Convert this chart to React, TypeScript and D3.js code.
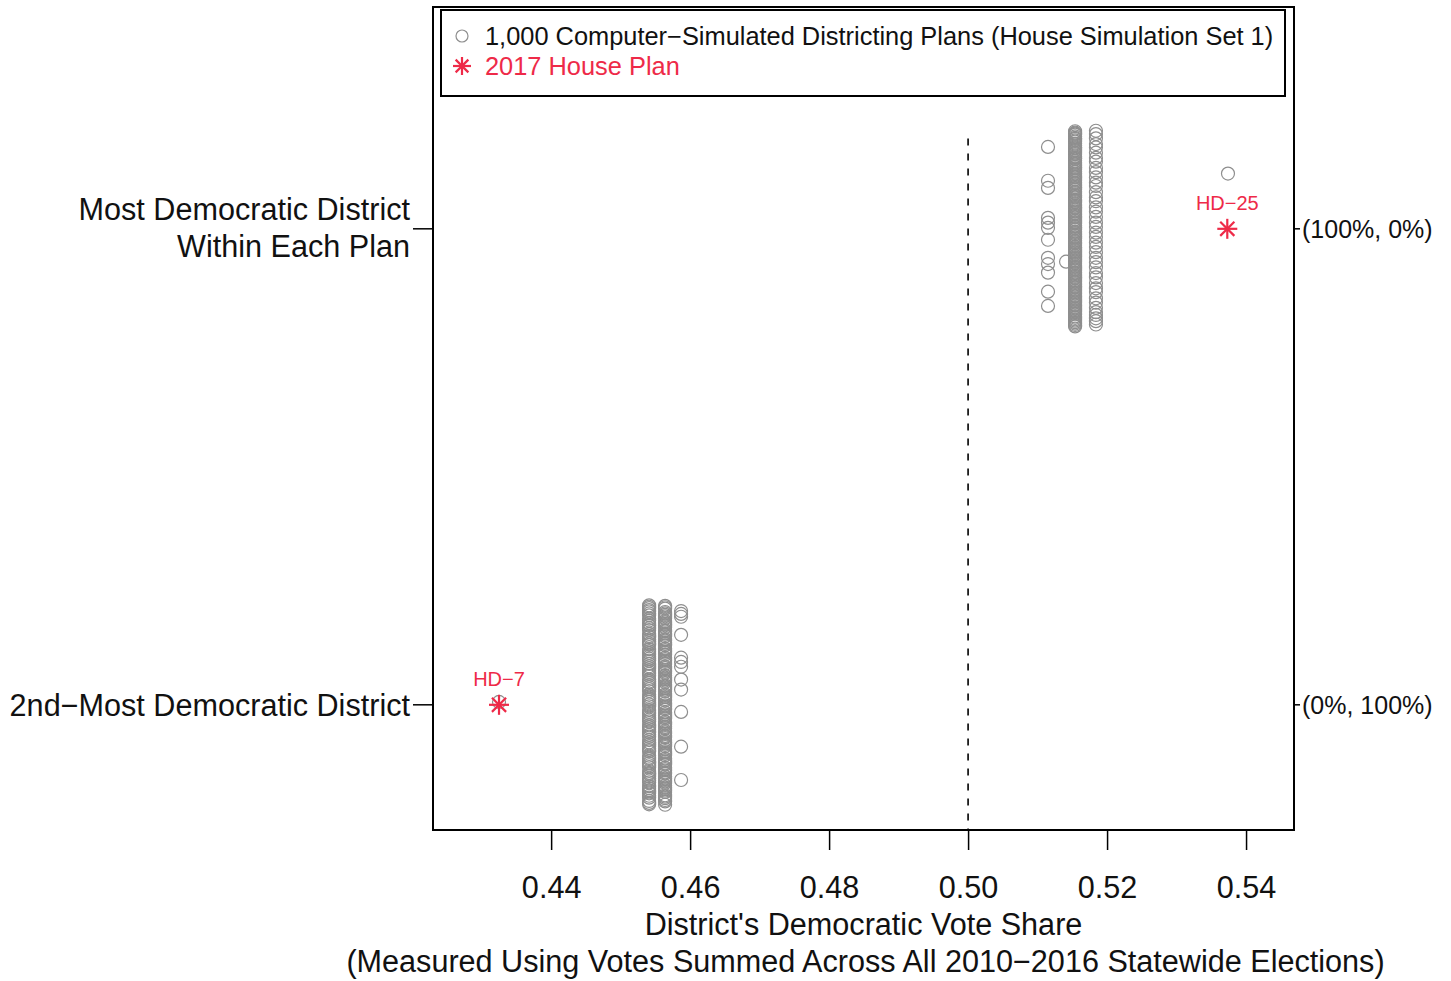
import React, { useEffect, useRef } from 'react';
import * as d3 from 'd3';

// row positions: 2 = most democratic district, 1 = 2nd-most
const rowLabels = [['2nd\u2212Most Democratic District'], ['Most Democratic District', 'Within Each Plan']];
const rightLabels = ['(0%, 100%)', '(100%, 0%)'];
const xTicks = [0.44, 0.46, 0.48, 0.5, 0.52, 0.54];

// simulated plans: vote share value of each column and vertical jitter of the circles
const mostValues = [0.5115, 0.5141, 0.5154, 0.5184, 0.5374];
const mostJitter = [
  [0.172, 0.101, 0.086, 0.023, 0.013, 0.002, -0.023, -0.061, -0.074, -0.092, -0.132, -0.162],
  [-0.069],
  [0.205, 0.198, 0.191, 0.186, 0.179, 0.171, 0.166, 0.160, 0.152, 0.147, 0.139, 0.133, 0.127, 0.120, 0.113,
    0.108, 0.101, 0.094, 0.088, 0.082, 0.075, 0.069, 0.061, 0.056, 0.049, 0.043, 0.036, 0.030, 0.024, 0.017,
    0.011, 0.004, -0.002, -0.009, -0.015, -0.021, -0.028, -0.034, -0.041, -0.047, -0.053, -0.060, -0.066,
    -0.072, -0.079, -0.085, -0.092, -0.098, -0.104, -0.111, -0.117, -0.123, -0.130, -0.136, -0.142, -0.149,
    -0.155, -0.161, -0.168, -0.174, -0.180, -0.187, -0.193, -0.199, -0.205,
    0.202, 0.183, 0.163, 0.143, 0.124, 0.104, 0.085, 0.066, 0.046, 0.027, 0.007, -0.012, -0.031, -0.050,
    -0.069, -0.088, -0.108, -0.127, -0.146, -0.165, -0.184, -0.202,
    0.200, 0.189, 0.175, 0.157, 0.136, 0.116, 0.097, 0.078, 0.059, 0.039, 0.020, 0.001, -0.018, -0.038,
    -0.057, -0.076, -0.095, -0.114, -0.133, -0.152, -0.171, -0.190, -0.196, 0.194, 0.169, 0.149, 0.130,
    0.110, 0.091, 0.071, 0.052, 0.033, 0.014, -0.006, -0.025, -0.044, -0.063, -0.082, -0.101, -0.120,
    -0.139, -0.158, -0.177],
  [0.206, 0.199, 0.190, 0.178, 0.171, 0.160, 0.149, 0.141, 0.128, 0.119, 0.108, 0.097, 0.090, 0.077, 0.066,
    0.058, 0.045, 0.036, 0.025, 0.013, 0.004, -0.008, -0.017, -0.029, -0.038, -0.049, -0.061, -0.070, -0.081,
    -0.093, -0.102, -0.114, -0.125, -0.133, -0.146, -0.155, -0.166, -0.175, -0.181, -0.188, -0.194, -0.201],
  [0.116],
];
const secondValues = [0.4325, 0.4541, 0.4564, 0.4587];
const secondJitter = [
  [0.006],
  [0.209, 0.203, 0.196, 0.188, 0.181, 0.172, 0.166, 0.157, 0.149, 0.142, 0.133, 0.126, 0.117, 0.109, 0.101,
    0.093, 0.086, 0.077, 0.069, 0.061, 0.053, 0.046, 0.037, 0.029, 0.021, 0.013, 0.006, -0.003, -0.011, -0.019,
    -0.027, -0.035, -0.043, -0.051, -0.058, -0.067, -0.074, -0.083, -0.091, -0.098, -0.107, -0.114, -0.123,
    -0.131, -0.139, -0.146, -0.155, -0.163, -0.171, -0.179, -0.186, -0.195, -0.202, -0.209,
    0.206, 0.192, 0.177, 0.161, 0.145, 0.129, 0.113, 0.097, 0.081, 0.065, 0.049, 0.033, 0.017, 0.001,
    -0.015, -0.031, -0.047, -0.063, -0.079, -0.095, -0.111, -0.127, -0.143, -0.159, -0.175, -0.191, -0.206,
    0.199, 0.168, 0.137, 0.105, 0.073, 0.041, 0.010, -0.023, -0.055, -0.087, -0.119, -0.150, -0.182],
  [0.208, 0.202, 0.195, 0.189, 0.182, 0.176, 0.170, 0.163, 0.157, 0.150, 0.144, 0.138, 0.131, 0.125, 0.118,
    0.112, 0.105, 0.099, 0.093, 0.086, 0.080, 0.073, 0.067, 0.061, 0.054, 0.048, 0.041, 0.035, 0.029, 0.022,
    0.016, 0.009, 0.003, -0.004, -0.010, -0.016, -0.023, -0.029, -0.036, -0.042, -0.049, -0.055, -0.061,
    -0.068, -0.074, -0.081, -0.087, -0.093, -0.100, -0.106, -0.113, -0.119, -0.126, -0.132, -0.138, -0.145,
    -0.151, -0.158, -0.164, -0.170, -0.177, -0.183, -0.190, -0.196, -0.203, -0.210,
    0.205, 0.186, 0.167, 0.147, 0.128, 0.109, 0.090, 0.070, 0.051, 0.032, 0.012, -0.007, -0.026, -0.046,
    -0.065, -0.084, -0.103, -0.123, -0.142, -0.161, -0.180, -0.200, 0.192, 0.173, 0.154, 0.135, 0.115,
    0.096, 0.077, 0.057, 0.038, 0.019, -0.001, -0.020, -0.039, -0.058, -0.078, -0.097, -0.116, -0.135,
    -0.155, -0.174, -0.193],
  [0.197, 0.191, 0.185, 0.147, 0.099, 0.090, 0.080, 0.053, 0.032, -0.015, -0.088, -0.158],
];

// 2017 house plan
const enactedValues = [0.5373, 0.4325];
const enactedRows = [2, 1];
const enactedLabels = ['HD\u221225', 'HD\u22127'];

const RED = '#ee2a48';
const GREY = '#8e8e8e';
const FONT = '"Liberation Sans", Arial, sans-serif';
const AX = 30.6;

export default function App() {
  const ref = useRef<SVGSVGElement>(null);

  useEffect(() => {
    const svg = d3.select(ref.current);
    svg.selectAll('*').remove();

    const left = 433, right = 1294, top = 7, bottom = 830;
    const x = d3.scaleLinear().domain([0.423, 0.5469]).range([left, right]);
    const y = d3.scaleLinear().domain([0.737, 2.466]).range([bottom, top]);

    // dashed 50% line
    svg.append('line')
      .attr('x1', x(0.5)).attr('x2', x(0.5))
      .attr('y1', y(2.19)).attr('y2', bottom)
      .attr('stroke', '#000').attr('stroke-width', 1.6)
      .attr('stroke-dasharray', '7,8');

    const pts: { v: number; r: number; j: number }[] = [];
    mostValues.forEach((v, i) => mostJitter[i].forEach(j => pts.push({ v, r: 2, j })));
    secondValues.forEach((v, i) => secondJitter[i].forEach(j => pts.push({ v, r: 1, j })));

    svg.append('g').selectAll('circle').data(pts).enter().append('circle')
      .attr('cx', d => x(d.v))
      .attr('cy', d => y(d.r + d.j))
      .attr('r', 6.5)
      .attr('fill', 'none')
      .attr('stroke', GREY)
      .attr('stroke-width', 1.2);

    // asterisks (pch 8)
    const star = (g: any, cx: number, cy: number, s: number, w: number) => {
      const d = s * Math.SQRT1_2;
      [[0, -s, 0, s], [-s, 0, s, 0], [-d, -d, d, d], [-d, d, d, -d]].forEach(([a, b, c, e]) =>
        g.append('line').attr('x1', cx + a).attr('y1', cy + b).attr('x2', cx + c).attr('y2', cy + e)
          .attr('stroke', RED).attr('stroke-width', w));
    };
    const eg = svg.append('g');
    enactedValues.forEach((v, i) => {
      star(eg, x(v), y(enactedRows[i]), 10, 2.2);
      eg.append('text')
        .attr('x', x(v)).attr('y', y(enactedRows[i]) - 19)
        .attr('text-anchor', 'middle')
        .attr('fill', RED).attr('font-size', 20).attr('font-family', FONT)
        .text(enactedLabels[i]);
    });

    // plot frame
    svg.append('rect')
      .attr('x', left).attr('y', top).attr('width', right - left).attr('height', bottom - top)
      .attr('fill', 'none').attr('stroke', '#000').attr('stroke-width', 2);

    // bottom axis
    const xa = svg.append('g').attr('transform', `translate(0,${bottom})`)
      .call(d3.axisBottom(x).tickValues(xTicks).tickSize(20).tickPadding(26).tickFormat(d3.format('.2f')));
    xa.select('.domain').remove();
    xa.selectAll('line').attr('stroke', '#000').attr('stroke-width', 1.5);
    xa.selectAll('text').attr('font-size', AX).attr('font-family', FONT).attr('fill', '#111');

    // left axis with multi-line labels, right axis with seat shares
    const ya = svg.append('g');
    [1, 2].forEach((r, i) => {
      ya.append('line').attr('x1', left - 20).attr('x2', left).attr('y1', y(r)).attr('y2', y(r))
        .attr('stroke', '#000').attr('stroke-width', 1.5);
      const lines = rowLabels[i];
      lines.forEach((t, k) => {
        ya.append('text')
          .attr('x', left - 23)
          .attr('y', y(r) + (k - (lines.length - 1) / 2) * 37 - (lines.length > 1 ? 1 : 0))
          .attr('dy', '0.36em')
          .attr('text-anchor', 'end')
          .attr('font-size', AX).attr('font-family', FONT).attr('fill', '#111')
          .text(t);
      });
      ya.append('line').attr('x1', right).attr('x2', right + 6).attr('y1', y(r)).attr('y2', y(r))
        .attr('stroke', '#000').attr('stroke-width', 1.5);
      ya.append('text')
        .attr('x', right + 8).attr('y', y(r)).attr('dy', '0.36em')
        .attr('font-size', 25).attr('font-family', FONT).attr('fill', '#111')
        .text(rightLabels[i]);
    });

    // axis title
    const mid = (left + right) / 2;
    svg.append('text').attr('x', mid).attr('y', 935).attr('text-anchor', 'middle')
      .attr('font-size', AX).attr('font-family', FONT).attr('fill', '#111')
      .text("District's Democratic Vote Share");
    svg.append('text').attr('x', mid + 2).attr('y', 972).attr('text-anchor', 'middle')
      .attr('font-size', AX).attr('font-family', FONT).attr('fill', '#111')
      .text('(Measured Using Votes Summed Across All 2010\u22122016 Statewide Elections)');

    // legend
    const lg = svg.append('g');
    lg.append('rect').attr('x', 441).attr('y', 10).attr('width', 844).attr('height', 86)
      .attr('fill', '#fff').attr('stroke', '#000').attr('stroke-width', 2);
    lg.append('circle').attr('cx', 462).attr('cy', 36).attr('r', 6)
      .attr('fill', 'none').attr('stroke', GREY).attr('stroke-width', 1.2);
    lg.append('text').attr('x', 485).attr('y', 36).attr('dy', '0.36em')
      .attr('font-size', 25.4).attr('font-family', FONT).attr('fill', '#111')
      .text('1,000 Computer\u2212Simulated Districting Plans (House Simulation Set 1)');
    star(lg, 462, 66, 9, 2.2);
    lg.append('text').attr('x', 485).attr('y', 66).attr('dy', '0.36em')
      .attr('font-size', 25.4).attr('font-family', FONT).attr('fill', RED)
      .text('2017 House Plan');
  }, []);

  return <svg ref={ref} width={1451} height={981} style={{ position: 'absolute', left: 0, top: 0, background: '#fff' }} />;
}
